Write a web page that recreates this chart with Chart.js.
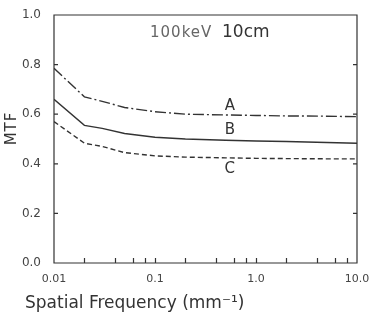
<!DOCTYPE html>
<html lang="en">
<head>
  <meta charset="UTF-8">
  <title>MTF vs Spatial Frequency</title>
  <style>
    body { margin: 0; background: #fff; }
    .chart-box { width: 370px; height: 322px; }
  </style>
</head>
<body>
  <div class="chart-box"><canvas id="mtfChart"></canvas></div>

  <script src="https://cdn.jsdelivr.net/npm/chart.js"></script>
  <script>
    // data
    const freqs = [0.01, 0.02, 0.03, 0.05, 0.1, 0.2, 0.5, 1, 2, 5, 10];
    const curveA = [0.785, 0.67, 0.652, 0.627, 0.61, 0.60, 0.597, 0.595, 0.593, 0.592, 0.59];
    const curveB = [0.66, 0.555, 0.543, 0.522, 0.507, 0.50, 0.495, 0.492, 0.49, 0.486, 0.483];
    const curveC = [0.57, 0.483, 0.47, 0.445, 0.432, 0.427, 0.424, 0.422, 0.421, 0.42, 0.42];
    const curveNames = ['A', 'B', 'C'];
    const xTickLabels = { 0.01: '0.01', 0.1: '0.1', 1: '1.0', 10: '10.0' };
    const xMinorTicks = [0.02, 0.04, 0.06, 0.08, 0.1, 0.2, 0.4, 0.6, 0.8, 1, 2, 4, 6, 8];
    const yTicks = [0, 0.2, 0.4, 0.6, 0.8, 1.0];

    const ink = '#333';

    // frame, inward ticks, curve labels, title text
    const decorations = {
      id: 'decorations',
      afterDraw(chart) {
        const { ctx, chartArea: a, scales: { x, y } } = chart;
        ctx.save();
        ctx.setLineDash([]);
        ctx.strokeStyle = ink;
        ctx.lineWidth = 1.2;
        ctx.beginPath();
        ctx.rect(a.left, a.top, a.right - a.left, a.bottom - a.top);
        xMinorTicks.forEach(v => {
          const px = Math.round(x.getPixelForValue(v)) + 0.5;
          ctx.moveTo(px, a.bottom);
          ctx.lineTo(px, a.bottom - 5);
        });
        yTicks.forEach(v => {
          const py = y.getPixelForValue(v);
          ctx.moveTo(a.left, py); ctx.lineTo(a.left + 4, py);
          ctx.moveTo(a.right, py); ctx.lineTo(a.right - 4, py);
        });
        ctx.stroke();

        ctx.fillStyle = ink;
        ctx.textAlign = 'center';
        ctx.textBaseline = 'middle';
        ctx.font = '15px "DejaVu Sans"';
        const labelX = x.getPixelForValue(0.55);
        const offsets = [-9, -10, 11];
        chart.data.datasets.forEach((ds, i) => {
          const py = y.getPixelForValue(ds.data[6]) + offsets[i];
          ctx.fillText(curveNames[i], labelX, py);
        });

        // title inside the plot
        const ty = a.top + 18;
        ctx.textAlign = 'left';
        ctx.font = '15px "DejaVu Sans"';
        ctx.fillStyle = '#666';
        ctx.letterSpacing = '1px';
        ctx.fillText('100keV', 150, ty);
        ctx.letterSpacing = '0px';
        ctx.font = '17px "DejaVu Sans"';
        ctx.fillStyle = ink;
        ctx.fillText('10cm', 222, ty);

        // axis titles
        ctx.font = '17px "DejaVu Sans"';
        ctx.fillText('Spatial Frequency (mm⁻¹)', 25, 304);

        ctx.translate(12, 129);
        ctx.rotate(-Math.PI / 2);
        ctx.textAlign = 'center';
        ctx.font = '15px "DejaVu Sans"';
        ctx.letterSpacing = '1px';
        ctx.fillText('MTF', 0.5, 0);
        ctx.restore();
      }
    };

    new Chart(document.getElementById('mtfChart'), {
      type: 'line',
      data: {
        labels: freqs,
        datasets: [
          { label: 'A', data: curveA, borderDash: [11, 3, 2, 3] },
          { label: 'B', data: curveB },
          { label: 'C', data: curveC, borderDash: [5, 3] }
        ].map(ds => Object.assign({
          borderColor: ink,
          borderWidth: 1.4,
          pointRadius: 0,
          fill: false,
          tension: 0
        }, ds))
      },
      options: {
        responsive: true,
        maintainAspectRatio: false,
        animation: false,
        layout: { padding: { top: 15, right: 13, left: 0, bottom: 0 } },
        plugins: { legend: { display: false }, tooltip: { enabled: false } },
        scales: {
          x: {
            type: 'logarithmic',
            min: 0.01,
            max: 10,
            afterBuildTicks: s => { s.ticks = Object.keys(xTickLabels).map(v => ({ value: +v })); },
            ticks: {
              autoSkip: false,
              maxRotation: 0,
              color: '#444',
              font: { family: 'DejaVu Sans', size: 11 },
              padding: 2,
              callback: v => xTickLabels[v] || ''
            },
            grid: { display: false },
            border: { display: false },
            afterFit: s => { s.height = 59; }
          },
          y: {
            min: 0,
            max: 1,
            afterBuildTicks: s => { s.ticks = yTicks.map(v => ({ value: v })); },
            ticks: {
              color: '#444',
              font: { family: 'DejaVu Sans', size: 12 },
              padding: 5,
              callback: v => v.toFixed(1)
            },
            grid: { display: false },
            border: { display: false },
            afterFit: s => { s.width = 54; }
          }
        }
      },
      plugins: [decorations]
    });
  </script>
</body>
</html>
